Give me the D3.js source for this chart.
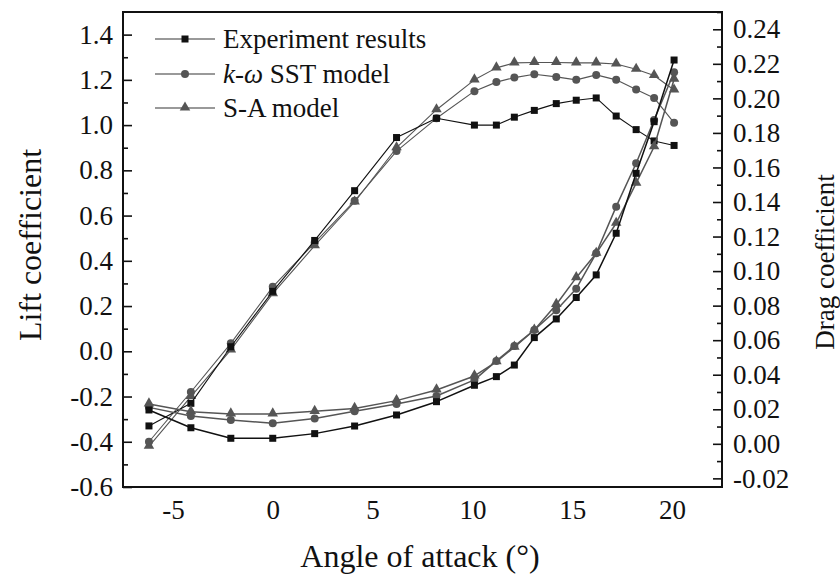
<!DOCTYPE html>
<html>
<head>
<meta charset="utf-8">
<script src="https://cdn.jsdelivr.net/npm/d3@7"></script>
<style>
  html, body { margin: 0; padding: 0; background: #fff; }
  svg text { font-family: "Liberation Serif", "Times New Roman", serif !important; fill: #111; }
</style>
</head>
<body>
<svg id="chart" width="840" height="580" font-family="Liberation Serif, serif"></svg>
<script>
// Angle of attack (deg)
const angles = [-6.2, -4.1, -2.1, 0, 2.1, 4.1, 6.2, 8.2, 10.1, 11.2, 12.1, 13.1, 14.2, 15.2, 16.2, 17.2, 18.2, 19.1, 20.1];

// Lift coefficient
const liftExp = [-0.33, -0.23, 0.02, 0.265, 0.49, 0.71, 0.945, 1.03, 1.00, 1.00, 1.035, 1.065, 1.095, 1.11, 1.12, 1.04, 0.98, 0.93, 0.91];
const liftSST = [-0.40, -0.18, 0.035, 0.285, 0.48, 0.665, 0.885, 1.03, 1.15, 1.19, 1.21, 1.225, 1.213, 1.20, 1.222, 1.20, 1.157, 1.12, 1.01];
const liftSA  = [-0.42, -0.20, 0.006, 0.255, 0.467, 0.66, 0.90, 1.068, 1.20, 1.253, 1.275, 1.277, 1.277, 1.275, 1.275, 1.27, 1.247, 1.219, 1.155];

// Drag coefficient
const dragExp = [0.0196, 0.0093, 0.0032, 0.0032, 0.0059, 0.0103, 0.0167, 0.0244, 0.0339, 0.0389, 0.0456, 0.0615, 0.0723, 0.0847, 0.0978, 0.1219, 0.1566, 0.1865, 0.2222];
const dragSST = [0.0211, 0.0161, 0.0138, 0.0119, 0.0146, 0.0188, 0.0231, 0.0277, 0.037, 0.048, 0.0566, 0.0659, 0.0773, 0.0898, 0.1103, 0.1373, 0.1624, 0.1875, 0.2151];
const dragSA  = [0.0231, 0.0186, 0.0173, 0.0173, 0.0188, 0.0205, 0.025, 0.0312, 0.0393, 0.0475, 0.056, 0.0659, 0.0807, 0.0962, 0.1103, 0.1277, 0.1509, 0.172, 0.2111];

// Axis ticks
const xTicks = [-5, 0, 5, 10, 15, 20];
const liftTicks = [-0.6, -0.4, -0.2, 0.0, 0.2, 0.4, 0.6, 0.8, 1.0, 1.2, 1.4];
const dragTicks = [-0.02, 0, 0.02, 0.04, 0.06, 0.08, 0.10, 0.12, 0.14, 0.16, 0.18, 0.20, 0.22, 0.24];

const legendNames = ["Experiment results", "k-ω SST model", "S-A model"];

const FONT = "'Liberation Serif', 'Times New Roman', serif";
const svg = d3.select("#chart");
const L = 123, R = 722, T = 12, B = 487;

const x = d3.scaleLinear().domain([-7.5, 22.5]).range([L, R]);
const yL = d3.scaleLinear().domain([-0.6, 1.5]).range([B, T]);
const yR = d3.scaleLinear().domain([-0.025, 0.25]).range([B, T]);

function styleAxis(g, fmt) {
  g.attr("font-family", FONT);
  g.selectAll(".tick line").attr("stroke", "#111").attr("stroke-width", 1.6);
  g.selectAll("text").style("font-family", FONT).style("font-size", "27px").attr("fill", "#111")
    .text(d => fmt(d).replace("−", "-"));
  g.select(".domain").remove();
}

// Left axis: inward major + minor ticks
const gl = svg.append("g").attr("transform", `translate(${L},0)`);
gl.call(d3.axisLeft(yL).tickValues(d3.range(0, 10).map(i => -0.5 + 0.2 * i)).tickSize(-5).tickFormat(""));
styleAxis(gl, () => "");
const gl2 = svg.append("g").attr("transform", `translate(${L},0)`);
gl2.call(d3.axisLeft(yL).tickValues(liftTicks).tickSize(-9).tickPadding(10));
styleAxis(gl2, d3.format(".1f"));

// Right axis
const gr = svg.append("g").attr("transform", `translate(${R},0)`);
gr.call(d3.axisRight(yR).tickValues(d3.range(0, 14).map(i => -0.01 + 0.02 * i)).tickSize(-5).tickFormat(""));
styleAxis(gr, () => "");
const gr2 = svg.append("g").attr("transform", `translate(${R},0)`);
gr2.call(d3.axisRight(yR).tickValues(dragTicks).tickSize(-9).tickPadding(11));
styleAxis(gr2, d3.format(".2f"));

// Bottom axis: labels only
const gb = svg.append("g").attr("transform", `translate(0,${B})`);
gb.call(d3.axisBottom(x).tickValues(xTicks).tickSize(0).tickPadding(13));
styleAxis(gb, d => String(d));

// Frame
svg.append("rect").attr("x", L).attr("y", T).attr("width", R - L).attr("height", B - T)
  .attr("fill", "none").attr("stroke", "#111").attr("stroke-width", 2);

// Series
const styles = [
  { color: "#111", marker: "square" },
  { color: "#555", marker: "circle" },
  { color: "#555", marker: "triangle" }
];
const liftSeries = [liftExp, liftSST, liftSA];
const dragSeries = [dragExp, dragSST, dragSA];

function drawMarker(g, type, cx, cy, color) {
  if (type === "square") {
    g.append("rect").attr("x", cx - 3.5).attr("y", cy - 3.5).attr("width", 7).attr("height", 7).attr("fill", color);
  } else if (type === "circle") {
    g.append("circle").attr("cx", cx).attr("cy", cy).attr("r", 4).attr("fill", color);
  } else {
    const s = d3.symbol().type(d3.symbolTriangle).size(48);
    g.append("path").attr("d", s()).attr("transform", `translate(${cx},${cy - 0.5})`).attr("fill", color);
  }
}

const plot = svg.append("g");
function drawSeries(vals, yScale, st, width) {
  const line = d3.line().x((d, i) => x(angles[i])).y(d => yScale(d));
  plot.append("path").datum(vals).attr("d", line).attr("fill", "none")
    .attr("stroke", st.color).attr("stroke-width", width).attr("stroke-linejoin", "round");
  vals.forEach((v, i) => drawMarker(plot, st.marker, x(angles[i]), yScale(v), st.color));
}
[2, 1, 0].forEach(k => drawSeries(liftSeries[k], yL, styles[k], 1.1));
[2, 1, 0].forEach(k => drawSeries(dragSeries[k], yR, styles[k], 1.5));

// Legend
const lg = svg.append("g").attr("font-family", FONT);
const rowsY = [39, 74, 108];
styles.forEach((st, k) => {
  lg.append("line").attr("x1", 155).attr("x2", 215).attr("y1", rowsY[k]).attr("y2", rowsY[k])
    .attr("stroke", "#777").attr("stroke-width", 1.3);
  drawMarker(lg, st.marker, 185, rowsY[k], st.color);
});
function legendText(y) {
  return lg.append("text").attr("x", 223).attr("y", y + 9).style("font-family", FONT).style("font-size", "27px");
}
legendText(rowsY[0]).text(legendNames[0]);
const t2 = legendText(rowsY[1]);
t2.append("tspan").style("font-style", "italic").text("k");
t2.append("tspan").text("-");
t2.append("tspan").style("font-style", "italic").text("ω");
t2.append("tspan").text(" SST model");
legendText(rowsY[2]).text(legendNames[2]);

// Axis titles
svg.append("text").attr("x", 420).attr("y", 567).attr("text-anchor", "middle")
  .style("font-family", FONT).style("font-size", "32px").text("Angle of attack (°)");
svg.append("text").attr("transform", "translate(41,245) rotate(-90)").attr("text-anchor", "middle")
  .style("font-family", FONT).style("font-size", "32px").text("Lift coefficient");
svg.append("text").attr("transform", "translate(834,262) rotate(-90)").attr("text-anchor", "middle")
  .style("font-family", FONT).style("font-size", "27px").text("Drag coefficient");
</script>
</body>
</html>
